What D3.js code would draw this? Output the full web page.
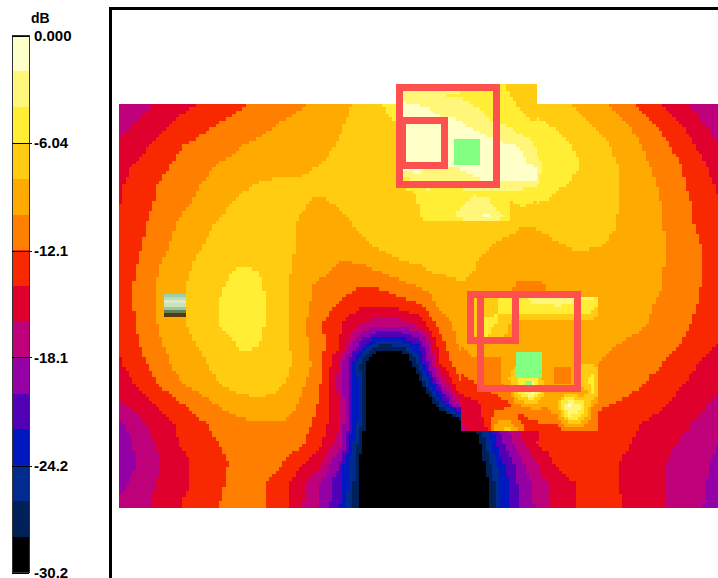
<!DOCTYPE html>
<html>
<head>
<meta charset="utf-8">
<style>
  html, body { margin: 0; padding: 0; background: #fff; }
  svg { display: block; }
  text { font-family: "Liberation Sans", Arial, sans-serif; font-size: 15px; font-weight: bold; fill: #000; }
</style>
<script src="https://d3js.org/d3.v7.min.js"></script>
</head>
<body>
<script>
// Colour bar: one colour per step, top (0 dB) to bottom (-30.2 dB)
var bandColors = ["#FFFFC8","#FFF67A","#FFEE33","#FFCC11","#FFAA00","#FF7F00","#F82800","#E0002D",
                  "#BE007A","#9400A5","#5200B8","#0018C0","#002C90","#00205A","#000000"];
var tickValues = [0, -6.04, -12.1, -18.1, -24.2, -30.2];
var tickLabels = ["0.000", "-6.04", "-12.1", "-18.1", "-24.2", "-30.2"];
var dbMin = -30.2;

// Area scan, dB at each grid node (31 columns x 21 rows), values under the black core are off the bar
var areaScan = [
[-17.6,-16.8,-15.9,-14.8,-14,-13.2,-12.4,-11.6,-11,-10.4,-9.6,-8.7,-7.7,-6.6,-3.8,-3,-3.2,-4,-4.4,-5,-6,-6.8,-7.7,-8.4,-9.5,-10.8,-12.6,-14,-15.7,-17,-17.6],
[-16.8,-15.8,-14.6,-13.6,-12.8,-12,-11.4,-10.7,-10,-9.4,-8.8,-8.2,-7.6,-7,-6,-5,-3,-3.2,-3.6,-4,-4.8,-5.8,-6.4,-7.4,-8.4,-9.5,-10.8,-12.4,-13.8,-15.7,-17.2],
[-16,-14.8,-13.7,-12.3,-11.6,-10.9,-10.2,-9.7,-9.3,-8.8,-8.4,-8,-7.5,-7,-6,-5,-2.6,-2.6,-2.8,-3.2,-3.8,-4.8,-5.6,-6.4,-7.4,-8.7,-9.9,-11.3,-12.8,-14.5,-16.1],
[-14.8,-13.8,-12.7,-11.7,-10.8,-10,-9.6,-9.2,-8.7,-8.4,-8.1,-7.7,-7.3,-6.8,-6.2,-5.4,-2.6,-2.4,-2.4,-2.4,-2.8,-3.8,-5.2,-6,-7,-8.1,-9.4,-10.7,-11.9,-13.5,-15.2],
[-14.4,-13.2,-12,-11,-10.1,-9.4,-8.6,-7.9,-7.7,-7.9,-7.6,-7.3,-7,-6.7,-6.4,-6,-4,-3.4,-3.4,-3,-3,-4,-5.8,-6.4,-7.2,-8,-9,-10.2,-11.6,-13,-14.4],
[-14.2,-13,-11.7,-10.6,-9.7,-8.6,-7.6,-7.2,-7.2,-7.8,-8.4,-7.9,-7.3,-6.8,-6.6,-6.2,-4.8,-4.6,-4.4,-5,-5.4,-6.2,-6.8,-7.2,-7.6,-8,-9,-9.9,-11.2,-12.6,-14],
[-14,-12.6,-11.2,-9.9,-8.8,-7.8,-7.2,-6.8,-7,-8.2,-8.8,-8.6,-7.8,-7.1,-6.6,-6.2,-6.4,-6.4,-6.6,-7.2,-7.9,-7.9,-7.4,-7,-7.2,-8.2,-9,-9.8,-11.1,-12.4,-13.8],
[-14,-12.4,-10.8,-9.4,-8.3,-7.4,-6.8,-6.6,-7,-8.3,-8.9,-8.8,-8.5,-7.7,-6.8,-6.4,-6.6,-6.9,-7.6,-8.2,-8.6,-8.5,-8.1,-7.6,-7.9,-8.5,-9.1,-9.7,-10.8,-11.9,-13.6],
[-13.7,-11.9,-10.2,-8.9,-7.7,-6.8,-6.1,-6.2,-7,-8.5,-9.1,-10.2,-10.2,-9.2,-8.4,-8,-7,-7.4,-8.2,-8.6,-8.9,-9,-9,-9,-8.9,-9.2,-9.5,-9.8,-10.8,-11.8,-13.6],
[-13.4,-11.6,-9.8,-8.4,-7.4,-6.3,-5.4,-5.8,-7.2,-9,-10.4,-11,-11.7,-11.6,-10.6,-9.7,-9,-8.2,-8.2,-9,-10.4,-10.4,-9.4,-9.1,-9,-9,-9.4,-9.9,-10.8,-11.9,-13.4],
[-13.4,-11.6,-9.8,-8.3,-7.3,-6,-5,-5.4,-7.1,-9.2,-10.8,-12.2,-13.6,-13.8,-13,-12.2,-9.7,-9,-8.8,-8.8,-10.6,-10.6,-8.8,-8.8,-9,-9.2,-9.6,-10.2,-11,-12.2,-13.2],
[-13.5,-11.7,-9.9,-8.4,-7.4,-6,-5.2,-5.6,-7.1,-9.2,-11.6,-13.9,-15.6,-17.4,-17.4,-15.4,-11.2,-9.4,-9,-8.8,-8.8,-8.8,-8.8,-8.8,-8.8,-9.2,-9.7,-10.5,-11.5,-12.5,-13.5],
[-14,-12.1,-10.3,-8.9,-7.9,-6.8,-5.9,-6,-7,-9,-11.4,-13.6,-20.2,-25.4,-25.2,-21.6,-13.2,-9.8,-9.2,-9,-8.8,-8.8,-8.8,-9,-9.6,-10.1,-10.6,-11.2,-11.9,-13.1,-14.2],
[-14.4,-12.8,-11,-9.4,-8.6,-7.3,-6.4,-6.2,-6.8,-8.6,-11,-16.2,-25.6,-36,-36,-25,-14.4,-10.6,-9.8,-10,-10,-10,-9.4,-9.4,-10.1,-10.6,-11.2,-11.9,-13,-14.2,-15.2],
[-15.2,-13.8,-12,-10.4,-9.2,-8.1,-7.2,-6.9,-7.7,-9.4,-11.6,-17,-24.4,-36,-36,-30,-19,-12.4,-11,-10.4,-10.4,-10.4,-10.4,-10.4,-10.6,-11.2,-11.9,-12.8,-13.9,-14.8,-15.8],
[-16.4,-15.2,-13.8,-12.3,-11.1,-9.9,-9,-8.6,-8.8,-10.2,-12.2,-15.4,-24.4,-36,-36,-36,-26,-16.6,-13.8,-12.6,-12,-12,-12,-12,-11.8,-12.2,-12.8,-13.7,-14.6,-15.7,-16.6],
[-18.6,-16.6,-15.2,-13.7,-12.5,-11.4,-10.6,-10.2,-10.2,-10.8,-12.8,-15.8,-25,-36,-36,-36,-36,-32,-26,-20,-15.8,-14,-13.4,-13,-12.6,-12.8,-14,-14.8,-15.6,-16.4,-17.2],
[-19.4,-17.6,-15.8,-14.1,-13,-12.1,-11.4,-11.1,-11,-11.6,-13.6,-16.8,-27.2,-36,-36,-36,-36,-36,-29,-21,-17.2,-13.8,-13.2,-12.8,-12.6,-13.4,-14.6,-15.4,-16.2,-17.2,-18.2],
[-19.8,-17.8,-16.2,-14.8,-13.6,-12.5,-11.6,-11,-11.8,-13.7,-15.4,-20.2,-27.8,-36,-36,-36,-36,-36,-30,-23.4,-19,-15.8,-13.6,-12.6,-12.6,-14.2,-15,-15.8,-16.7,-17.6,-18.6],
[-18.8,-17.2,-15.9,-14.7,-13.5,-12.4,-11.3,-11.6,-13.1,-15.2,-18,-21.4,-27.8,-36,-36,-36,-36,-36,-32,-24.4,-19.8,-17.2,-15.2,-13.9,-12.8,-14.2,-14.9,-15.8,-16.7,-17.8,-18.7],
[-17.8,-16.9,-15.6,-14.2,-13.2,-12.1,-11.1,-11.6,-13,-15.5,-18.2,-21.6,-28.2,-36,-36,-36,-36,-36,-33,-24.2,-20,-17.5,-15,-14,-13,-13.9,-14.8,-15.7,-16.7,-17.9,-18.8]
];

// Zoom scan over the upper peak
var zoomScanTop = [
[-3,-3,-3.2,-3.4,-3.6,-3.8,-4,-4,-5.6,-6.6,-7.2,-7.6],
[-2.6,-3,-3.4,-3.9,-4.1,-4.2,-4.4,-4.6,-5,-6.1,-6.8,-7.2],
[-1.4,-1.6,-1.9,-3.2,-3.2,-3.6,-4,-4.4,-4.8,-5.6,-6.2,-6.6],
[-1,-1,-1,-1.4,-1.7,-2.1,-3,-3.8,-4.4,-5,-5.8,-6.2],
[-1,-1,-1,-1,-1.2,-1.4,-1.8,-2.4,-2.6,-3.6,-4.6,-5.4],
[-1,-1,-1,-1,-1,-1,-1,-1.4,-1.9,-1.8,-2.4,-4.2],
[-1,-1,-1,-1,-1,-1,-1.2,-1.4,-1.6,-1.6,-1.9,-3.6],
[-1.2,-1.2,-2.2,-2.2,-2.2,-1.8,-1.2,-1.2,-1.2,-1.2,-1.4,-1.9],
[-5.6,-3,-3,-3.4,-3,-2.8,-2.2,-1.8,-1.8,-1.6,-1.6,-1.9],
[-6.4,-5.9,-4.2,-5.8,-5.8,-4.4,-4.2,-4.4,-4.4,-4.6,-4.8,-5],
[-6.8,-6.4,-4.8,-6.2,-4.6,-4.2,-3.6,-3.4,-5,-6.4,-5.8,-6.4],
[-6.6,-6.6,-5.4,-5,-4.4,-3.2,-2.6,-1.8,-3.2,-6.2,-6.8,-7],
[-6.6,-6.6,-6.6,-6.6,-6.6,-6.6,-6.4,-6.4,-6.6,-7.2,-7.8,-8]
];

// Zoom scan over the lower peak
var zoomScanLow = [
[-8.4,-8.4,-6.8,-6,-4,-4.4,-3.4,-3.2,-3,-3.4,-3.8,-3.8,-8.6],
[-8.4,-8,-7,-6,-5.2,-5.2,-4.8,-4.6,-4.4,-4.6,-5,-5.2,-8.8],
[-8.6,-8.2,-5.8,-6,-8,-8.4,-8.6,-8.6,-8.6,-8.6,-8.6,-8.6,-8.8],
[-9.2,-8.4,-5,-6.8,-8.4,-8.8,-8.8,-8.8,-8.8,-8.8,-8.8,-8.8,-9],
[-10.2,-9,-8.6,-8.6,-8.8,-8.8,-8.8,-8.8,-8.8,-8.8,-8.8,-9,-9.4],
[-11,-10,-10.3,-10.3,-9.6,-9.2,-9,-8.8,-8.8,-8.8,-8.8,-9.2,-10],
[-11.6,-10.8,-10.6,-10.6,-8.4,-7.6,-7.6,-9.2,-10.2,-10.2,-7.6,-7,-10.2],
[-12.8,-12,-11.2,-10.8,-8,-5,-4,-9,-10.4,-10.4,-7,-5,-10.6],
[-14,-13.4,-12.5,-11.9,-11,-4.4,-1.6,-9,-9.6,-8,-10,-6,-10.8],
[-15.2,-14.8,-13.6,-13,-12.4,-9.8,-9,-9.8,-8,-1.4,-3.4,-10,-11.2],
[-15.6,-15.4,-13.8,-11,-11,-12.8,-11.6,-11.2,-10.6,-4.2,-5.6,-11,-11.8],
[-16.6,-15.6,-14.8,-9,-7,-11.5,-13,-13,-12.8,-11.5,-11,-11.6,-12.8],
[-17,-16,-15,-13,-11,-13,-13.4,-13.4,-13.2,-13,-12.8,-12.8,-13]
];

// Scan windows in grid units: x0, x1, y0, y1, and node spacing
var areaWindow = [0, 29.95, 0, 20.15, 1];
var zoomWindowTop = [14.2, 20.8, -1, 5.85, 0.6];
var zoomWindowLow = [17.1, 23.85, 9.65, 16.4, 0.6];

// Boxes and probe markers in grid units: x0, y0, x1, y1
var redBoxes = [
  [14.03, -0.83, 18.88, 4.02],
  [14.18, 0.8, 16.28, 3.05],
  [18.05, 9.5, 22.93, 14.2],
  [17.55, 9.5, 19.8, 11.8]
];
var greenBoxes = [
  [16.75, 1.75, 18.05, 3.05],
  [14.05, 2.1, 14.35, 2.4],
  [19.85, 12.4, 21.15, 13.7],
  [20.3, 13.85, 20.65, 14.15]
];
// Small sample strip left of the map, one colour per row
var sampleColors = ["#9CD0A8","#B4E0B4","#DCE8C8","#C8E4B8","#98C8A0","#688058","#503C10"];
var sampleBox = [2.25, 9.5, 3.35, 10.6];

var width = 718, height = 578;
var svg = d3.select("body").append("svg").attr("width", width).attr("height", height);

var x = d3.scaleLinear().domain([0, 30]).range([119, 719]);
var y = d3.scaleLinear().domain([0, 20]).range([104, 504]);

// thresholds between the colour steps, low to high for scaleThreshold
var step = -dbMin / bandColors.length;
var color = d3.scaleThreshold()
    .domain(d3.range(bandColors.length - 1, 0, -1).map(function(i) { return -step * i; }))
    .range(bandColors.slice().reverse());

// The source is a bitmap, so draw in small cells (1/6 grid unit) and merge runs per row
var cell = 1 / 6;
function drawScan(parent, grid, win) {
    var nx = grid[0].length, ny = grid.length;
    function valueAt(gx, gy) {
        var u = Math.max(0, Math.min(nx - 1.001, (gx - win[0]) / win[4]));
        var v = Math.max(0, Math.min(ny - 1.001, (gy - win[2]) / win[4]));
        var i = Math.floor(u), j = Math.floor(v), s = u - i, t = v - j;
        return d3.interpolateNumber(
            d3.interpolateNumber(grid[j][i], grid[j][i + 1])(s),
            d3.interpolateNumber(grid[j + 1][i], grid[j + 1][i + 1])(s))(t);
    }
    var cols = Math.round((win[1] - win[0]) / cell), rows = Math.round((win[3] - win[2]) / cell);
    var runs = [];
    for (var r = 0; r < rows; r++) {
        var start = 0, prev = null;
        for (var c = 0; c <= cols; c++) {
            var col = c < cols ? color(valueAt(win[0] + (c + 0.5) * cell, win[2] + (r + 0.5) * cell)) : null;
            if (col !== prev) {
                if (prev) runs.push({r: r, c0: start, c1: c, color: prev});
                start = c; prev = col;
            }
        }
    }
    parent.append("g").attr("shape-rendering", "crispEdges")
        .selectAll("rect").data(runs).enter().append("rect")
        .attr("x", function(d) { return x(win[0] + d.c0 * cell); })
        .attr("y", function(d) { return y(win[2] + d.r * cell); })
        .attr("width", function(d) { return x(win[0] + d.c1 * cell) - x(win[0] + d.c0 * cell) + 0.5; })
        .attr("height", y(cell) - y(0) + 0.5)
        .attr("fill", function(d) { return d.color; });
}

var map = svg.append("g");
drawScan(map, areaScan, areaWindow);
drawScan(map, zoomScanTop, zoomWindowTop);
drawScan(map, zoomScanLow, zoomWindowLow);

// sample strip
var sampleY = d3.scaleBand().domain(d3.range(sampleColors.length)).range([y(sampleBox[1]), y(sampleBox[3])]);
map.append("g").attr("shape-rendering", "crispEdges")
    .selectAll("rect").data(sampleColors).enter().append("rect")
    .attr("x", x(sampleBox[0]))
    .attr("y", function(d, i) { return sampleY(i); })
    .attr("width", x(sampleBox[2]) - x(sampleBox[0]))
    .attr("height", sampleY.bandwidth() + 0.5)
    .attr("fill", function(d) { return d; });

// probe markers and measurement boxes
map.append("g").attr("shape-rendering", "crispEdges")
    .selectAll("rect").data(greenBoxes).enter().append("rect")
    .attr("x", function(d) { return x(d[0]); })
    .attr("y", function(d) { return y(d[1]); })
    .attr("width", function(d) { return x(d[2]) - x(d[0]); })
    .attr("height", function(d) { return y(d[3]) - y(d[1]); })
    .attr("fill", "#80FF80");

map.append("g").attr("shape-rendering", "crispEdges")
    .selectAll("rect").data(redBoxes).enter().append("rect")
    .attr("x", function(d) { return x(d[0]); })
    .attr("y", function(d) { return y(d[1]); })
    .attr("width", function(d) { return x(d[2]) - x(d[0]); })
    .attr("height", function(d) { return y(d[3]) - y(d[1]); })
    .attr("fill", "none")
    .attr("stroke", "#FF5050")
    .attr("stroke-width", 7);

// frame, top and left only
svg.append("path")
    .attr("d", d3.line()([[110.5, height], [110.5, 8.5], [width, 8.5]]))
    .attr("fill", "none")
    .attr("stroke", "#000")
    .attr("stroke-width", 3)
    .attr("shape-rendering", "crispEdges");

// colour bar
var barY = d3.scaleLinear().domain([0, dbMin]).range([35.5, 572.5]);
var bar = svg.append("g");
bar.append("g").attr("shape-rendering", "crispEdges")
    .selectAll("rect").data(bandColors).enter().append("rect")
    .attr("x", 13)
    .attr("y", function(d, i) { return barY(-step * i); })
    .attr("width", 16)
    .attr("height", function(d, i) { return barY(-step * (i + 1)) - barY(-step * i); })
    .attr("fill", function(d) { return d; });
bar.append("rect")
    .attr("x", 12.5).attr("y", 35.5).attr("width", 17).attr("height", 537)
    .attr("fill", "none").attr("stroke", "#333").attr("shape-rendering", "crispEdges");

var barAxis = d3.axisRight(barY)
    .tickValues(tickValues)
    .tickFormat(function(d, i) { return tickLabels[i]; })
    .tickSize(0)
    .tickPadding(5);
var barG = svg.append("g").attr("transform", "translate(29,0)").call(barAxis);
barG.select(".domain").remove();
barG.selectAll(".tick line")
    .attr("x1", -17).attr("x2", function(d, i) { return i > 0 && i < 5 ? 3 : 0; })
    .attr("stroke", "#000")
    .attr("shape-rendering", "crispEdges");
barG.selectAll(".tick text")
    .style("font-family", '"Liberation Sans", Arial, sans-serif')
    .style("font-size", "15px")
    .style("font-weight", "bold")
    .attr("x", 5)
    .attr("fill", "#000");

svg.append("text").attr("x", 31).attr("y", 23).style("font-size", "14px").text("dB");
</script>
</body>
</html>
